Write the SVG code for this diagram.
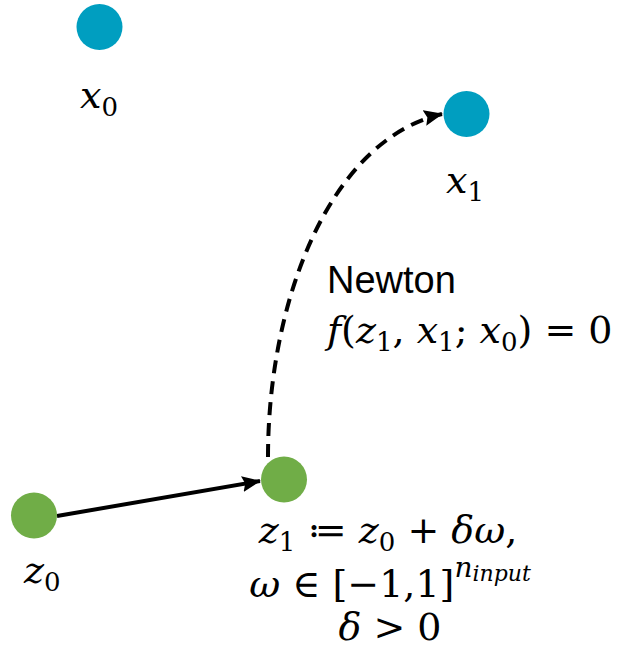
<svg xmlns="http://www.w3.org/2000/svg" width="623" height="653" viewBox="0 0 623 653">
<style>
.blue{fill:#009EC0}
.green{fill:#70AD47}
.m{font-family:"DejaVu Serif","Liberation Serif",serif;font-size:38px;fill:#000}
.i{font-style:italic}
.sub{font-size:26px}
.sans{font-family:"Liberation Sans",Arial,sans-serif;font-size:38px;fill:#000}
.c{stroke:#000;stroke-width:4;fill:none}
</style>
<defs>
<marker id="ah" markerUnits="userSpaceOnUse" markerWidth="20" markerHeight="16" refX="18" refY="8" orient="auto">
<path d="M0,0 L19,8 L0,16 L3,8 Z" fill="#000"/>
</marker>
</defs>
<rect width="623" height="653" fill="#fff"/>
<g id="connectors">
<line class="c" x1="57" y1="516" x2="260" y2="481" marker-end="url(#ah)"/>
<path class="c" d="M268,457 C268,300 330,140 442,114" stroke-dasharray="13,8" marker-end="url(#ah)"/>
</g>
<g id="x0">
<circle class="blue" cx="99.5" cy="27" r="23"/>
<text class="m" x="80" y="108"><tspan class="i">x</tspan><tspan class="sub" dy="8">0</tspan></text>
</g>
<g id="x1">
<circle class="blue" cx="466.5" cy="114" r="23"/>
<text class="m" x="446" y="193"><tspan class="i">x</tspan><tspan class="sub" dy="8">1</tspan></text>
</g>
<g id="z0">
<circle class="green" cx="34" cy="515.5" r="23"/>
<text class="m" x="24" y="583"><tspan class="i">z</tspan><tspan class="sub" dy="8">0</tspan></text>
</g>
<g id="z1">
<circle class="green" cx="284" cy="479.5" r="23"/>
<text class="m" x="388" y="543" text-anchor="middle"><tspan class="i">z</tspan><tspan class="sub" dy="8">1</tspan><tspan dy="-8"> ≔ </tspan><tspan class="i">z</tspan><tspan class="sub" dy="8">0</tspan><tspan dy="-8"> + </tspan><tspan class="i">δω</tspan>,</text>
<text class="m" x="390" y="597" text-anchor="middle"><tspan class="i">ω</tspan> ∈ [−1,1]<tspan class="i" font-size="28" dy="-20">n</tspan><tspan class="i" font-size="22" dy="4">input</tspan></text>
<text class="m" x="390" y="640" text-anchor="middle"><tspan class="i">δ</tspan> &gt; 0</text>
</g>
<g id="newton">
<text class="sans" x="327" y="293">Newton</text>
<text class="m" x="327" y="343"><tspan class="i">f</tspan>(<tspan class="i">z</tspan><tspan class="sub" dy="8">1</tspan><tspan dy="-8">, </tspan><tspan class="i">x</tspan><tspan class="sub" dy="8">1</tspan><tspan dy="-8">; </tspan><tspan class="i">x</tspan><tspan class="sub" dy="8">0</tspan><tspan dy="-8">) = 0</tspan></text>
</g>
</svg>
